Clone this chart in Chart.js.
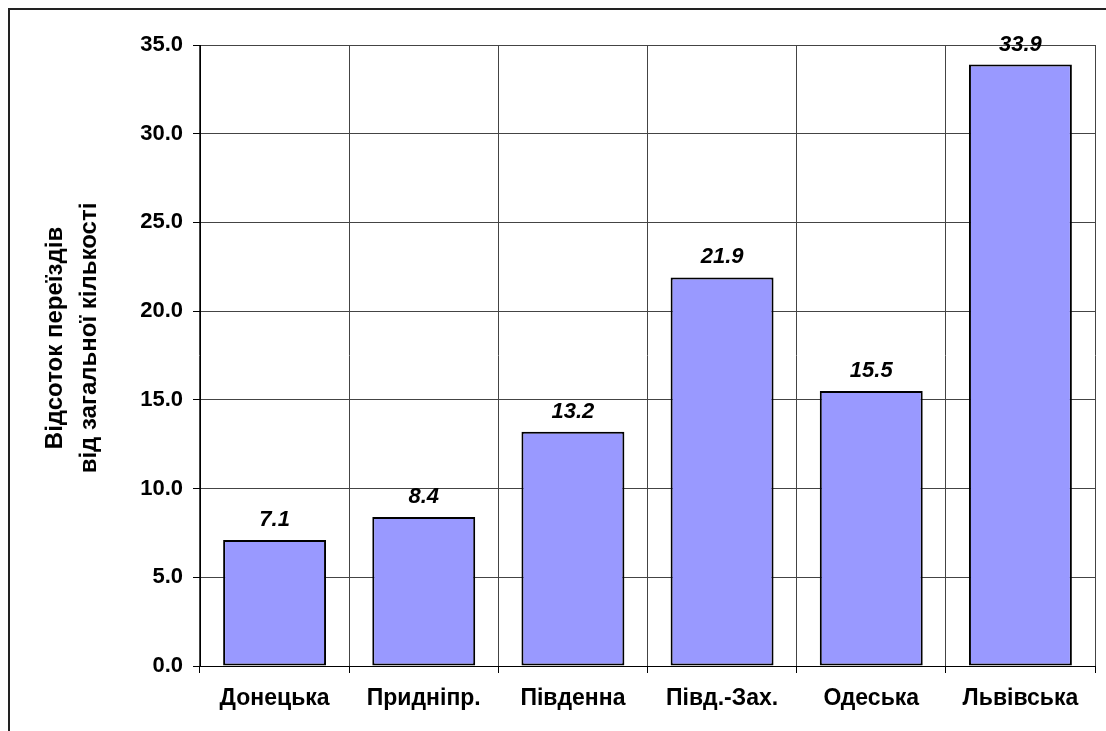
<!DOCTYPE html>
<html>
<head>
<meta charset="utf-8">
<script src="https://cdn.jsdelivr.net/npm/chart.js@4"></script>
<style>
  html, body { margin: 0; padding: 0; background: #fff; overflow: hidden; }
  #frame { position: absolute; left: 8px; top: 8px; width: 1200px; height: 800px; border: 2px solid #222; }
  #wrap { position: absolute; left: 0; top: 0; width: 1106px; height: 731px; }
</style>
</head>
<body>
<div id="frame"></div>
<div id="wrap"><canvas id="chart" width="1106" height="731"></canvas></div>
<script>
const regions = ['Донецька', 'Придніпр.', 'Південна', 'Півд.-Зах.', 'Одеська', 'Львівська'];
const shares  = [7.1, 8.4, 13.2, 21.9, 15.5, 33.9];
const titleLines = ['Відсоток переїздів', 'від загальної кількості'];

const FONT = 'Arial, "Liberation Sans", sans-serif';

// value labels above bars, italic bold
const barLabels = {
  id: 'barLabels',
  afterDatasetsDraw(chart) {
    const ctx = chart.ctx;
    const meta = chart.getDatasetMeta(0);
    ctx.save();
    ctx.font = 'italic bold 22px ' + FONT;
    ctx.fillStyle = '#000';
    ctx.textAlign = 'center';
    ctx.textBaseline = 'bottom';
    meta.data.forEach((bar, i) => {
      ctx.fillText(shares[i].toFixed(1), bar.x, bar.y - 9);
    });
    ctx.restore();
  }
};

// two-line rotated axis title
const axisTitle = {
  id: 'axisTitle',
  afterDraw(chart) {
    const ctx = chart.ctx;
    ctx.save();
    ctx.font = 'bold 24px ' + FONT;
    ctx.fillStyle = '#000';
    ctx.textAlign = 'center';
    ctx.textBaseline = 'middle';
    ctx.translate(0, 338);
    ctx.rotate(-Math.PI / 2);
    ctx.fillText(titleLines[0], 0, 55);
    ctx.fillText(titleLines[1], 0, 89);
    ctx.restore();
  }
};

new Chart(document.getElementById('chart'), {
  type: 'bar',
  data: {
    labels: regions,
    datasets: [{
      data: shares,
      backgroundColor: '#9999ff',
      borderColor: '#000',
      borderWidth: 2,
      borderSkipped: false,
      categoryPercentage: 1,
      barPercentage: 0.69
    }]
  },
  options: {
    responsive: false,
    animation: false,
    layout: { padding: { top: 45, right: 11, left: 0, bottom: 0 } },
    plugins: { legend: { display: false }, tooltip: { enabled: false } },
    scales: {
      x: {
        afterFit: s => { s.height = 65; },
        grid: { offset: true, color: '#444', lineWidth: 1, tickLength: 7, tickColor: '#000' },
        border: { color: '#000', width: 1 },
        ticks: { color: '#000', padding: 12, font: { family: FONT, size: 23, weight: 'bold' } }
      },
      y: {
        min: 0, max: 35,
        afterFit: s => { s.width = 200; },
        grid: { color: '#444', lineWidth: 1, tickLength: 7, tickColor: '#000' },
        border: { color: '#000', width: 1 },
        ticks: {
          stepSize: 5, color: '#000', padding: 10,
          font: { family: FONT, size: 22, weight: 'bold' },
          callback: v => v.toFixed(1)
        }
      }
    }
  },
  plugins: [barLabels, axisTitle]
});
</script>
</body>
</html>
